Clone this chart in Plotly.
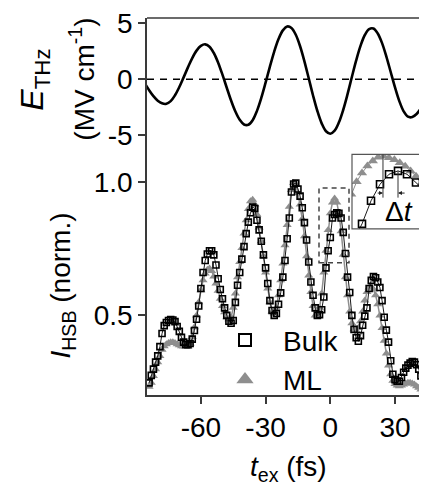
import plotly.graph_objects as go

# ---------------- data ----------------
t_field = [-86, -84, -82, -80, -78, -76, -74, -72, -70, -68, -66, -64, -62, -60, -58, -56, -54,
           -52, -50, -48, -46, -44, -42, -40, -38, -36, -34, -32, -30, -28, -26, -24, -22, -20,
           -18, -16, -14, -12, -10, -8, -6, -4, -2, 0, 2, 4, 6, 8, 10, 12, 14, 16, 18, 20, 22,
           24, 26, 28, 30, 32, 34, 36, 38, 40, 42, 44, 46]
e_thz = [-0.38, -0.98, -1.51, -1.91, -2.15, -2.19, -1.95, -1.43, -0.70, 0.16, 1.05, 1.88, 2.54,
         2.96, 3.10, 2.89, 2.33, 1.47, 0.40, -0.76, -1.90, -2.88, -3.62, -4.03, -4.06, -3.65,
         -2.82, -1.67, -0.31, 1.12, 2.46, 3.57, 4.34, 4.69, 4.56, 3.95, 2.93, 1.59, 0.08, -1.45,
         -2.83, -3.93, -4.63, -4.85, -4.58, -3.84, -2.72, -1.33, 0.19, 1.67, 2.96, 3.93, 4.46,
         4.51, 4.07, 3.21, 2.01, 0.64, -0.73, -1.95, -2.86, -3.34, -3.37, -3.10, -2.60, -1.95, -1.30]

t_ex = [-84, -83, -82, -81, -80, -79, -78, -77, -76, -75,
        -74, -73, -72, -71, -70, -69, -68, -67, -66, -65,
        -64, -63, -62, -61, -60, -59, -58, -57, -56, -55,
        -54, -53, -52, -51, -50, -49, -48, -47, -46, -45,
        -44, -43, -42, -41, -40, -39, -38, -37, -36, -35,
        -34, -33, -32, -31, -30, -29, -28, -27, -26, -25,
        -24, -23, -22, -21, -20, -19, -18, -17, -16, -15,
        -14, -13, -12, -11, -10, -9, -8, -7, -6, -5,
        -4, -3, -2, -1, 0, 1, 2, 3, 4, 5,
        6, 7, 8, 9, 10, 11, 12, 13, 14, 15,
        16, 17, 18, 19, 20, 21, 22, 23, 24, 25,
        26, 27, 28, 29, 30, 31, 32, 33, 34, 35,
        36, 37, 38, 39, 40, 41, 42, 43, 44, 45]

hsb_bulk = [0.352, 0.366, 0.378, 0.392, 0.405, 0.425, 0.455, 0.474, 0.482, 0.487,
            0.489, 0.488, 0.484, 0.472, 0.460, 0.446, 0.435, 0.430, 0.429, 0.432,
            0.442, 0.462, 0.490, 0.525, 0.575, 0.625, 0.665, 0.688, 0.700, 0.700,
            0.685, 0.650, 0.605, 0.572, 0.545, 0.520, 0.500, 0.485, 0.480, 0.487,
            0.535, 0.585, 0.625, 0.670, 0.715, 0.765, 0.812, 0.853, 0.878, 0.872,
            0.820, 0.780, 0.735, 0.685, 0.640, 0.590, 0.540, 0.513, 0.500, 0.505,
            0.530, 0.562, 0.610, 0.665, 0.745, 0.830, 0.950, 0.990, 0.995, 0.965,
            0.930, 0.875, 0.810, 0.740, 0.660, 0.595, 0.555, 0.520, 0.500, 0.502,
            0.515, 0.550, 0.640, 0.700, 0.750, 0.830, 0.845, 0.852, 0.850, 0.830,
            0.770, 0.690, 0.610, 0.563, 0.500, 0.465, 0.445, 0.437, 0.450, 0.475,
            0.498, 0.520, 0.575, 0.600, 0.612, 0.608, 0.595, 0.578, 0.540, 0.495,
            0.463, 0.435, 0.395, 0.368, 0.358, 0.355, 0.355, 0.362, 0.372, 0.380,
            0.386, 0.390, 0.393, 0.392, 0.387, 0.378, 0.365, 0.352, 0.336, 0.325]

hsb_ml = [0.345, 0.352, 0.365, 0.378, 0.392, 0.405, 0.418, 0.426, 0.430, 0.433,
          0.435, 0.435, 0.433, 0.430, 0.428, 0.426, 0.425, 0.424, 0.425, 0.432,
          0.447, 0.470, 0.500, 0.535, 0.570, 0.600, 0.622, 0.634, 0.638, 0.630,
          0.612, 0.590, 0.568, 0.545, 0.525, 0.508, 0.495, 0.490, 0.495, 0.520,
          0.560, 0.610, 0.660, 0.710, 0.765, 0.820, 0.870, 0.905, 0.912, 0.890,
          0.845, 0.790, 0.735, 0.680, 0.625, 0.575, 0.535, 0.510, 0.505, 0.520,
          0.555, 0.600, 0.655, 0.720, 0.800, 0.880, 0.960, 0.995, 0.985, 0.945,
          0.890, 0.825, 0.755, 0.680, 0.615, 0.565, 0.525, 0.500, 0.500, 0.520,
          0.560, 0.625, 0.700, 0.780, 0.850, 0.900, 0.918, 0.900, 0.850, 0.775,
          0.685, 0.610, 0.555, 0.510, 0.480, 0.465, 0.462, 0.468, 0.485, 0.510,
          0.540, 0.565, 0.578, 0.580, 0.572, 0.555, 0.530, 0.500, 0.468, 0.438,
          0.410, 0.385, 0.368, 0.356, 0.350, 0.347, 0.346, 0.347, 0.349, 0.351,
          0.352, 0.352, 0.351, 0.349, 0.346, 0.343, 0.340, 0.337, 0.334, 0.330]

# inset (zoom of the peak near t_ex = 0)
inset_t_bulk = [-1, 0, 1, 2, 3, 4, 5, 6, 7, 8]
inset_bulk = [0.45, 0.551, 0.682, 0.776, 0.833, 0.852, 0.833, 0.786, 0.739, 0.69]
inset_t_ml = [-1.8, -1.2, -0.6, 0.0, 0.6, 1.2, 1.8, 2.4, 3.0, 3.6, 4.2, 4.8, 5.4, 6.0, 6.6, 7.2, 7.8]
inset_ml = [0.64, 0.72, 0.79, 0.84, 0.88, 0.908, 0.93, 0.935, 0.926, 0.915, 0.898, 0.878,
            0.852, 0.822, 0.78, 0.73, 0.67]
peak_ml_t = 2.33
peak_bulk_t = 4.0

x_ticks = [-60, -30, 0, 30]
x_ticklabels = ["-60", "-30", "0", "30"]
e_ticks = [-5, 0, 5]
e_ticklabels = ["-5", "0", "5"]
i_ticks = [0.5, 1.0]
i_ticklabels = ["0.5", "1.0"]

# ---------------- figure ----------------
FONT = "Liberation Sans, Arial, sans-serif"
AX = "#3a3a3a"
GRAY = "#8e8e8e"
OFF = 8                      # page body margin of the browser
SW, SH = 427, 488            # screen size
W, H = SW - OFF, SH - OFF    # figure size
L_PX, R_PX, T_PX, B_PX = 147, 427, 16, 395   # plot area on screen
ML_, MR_, MT_, MB_ = L_PX - OFF, SW - R_PX, T_PX - OFF, SH - B_PX
PW, PH = R_PX - L_PX, B_PX - T_PX


def px_x(p):
    return (p - L_PX) / PW


def px_y(p):
    return (B_PX - p) / PH


split = px_y(150)

fig = go.Figure()

# top panel: THz field
fig.add_trace(go.Scatter(x=t_field, y=e_thz, xaxis="x2", yaxis="y2", mode="lines",
                         line=dict(color="black", width=2.6, shape="spline"),
                         showlegend=False, hoverinfo="skip"))

# bottom panel: HSB intensity
fig.add_trace(go.Scatter(x=t_ex, y=hsb_ml, xaxis="x", yaxis="y", mode="lines+markers",
                         line=dict(color=GRAY, width=1.5),
                         marker=dict(symbol="triangle-up", size=8, color=GRAY),
                         showlegend=False, hoverinfo="skip"))
fig.add_trace(go.Scatter(x=t_ex, y=hsb_bulk, xaxis="x", yaxis="y", mode="lines+markers",
                         line=dict(color="#1a1a1a", width=1),
                         marker=dict(symbol="square-open", size=6, color="black",
                                     line=dict(width=1.6, color="black")),
                         showlegend=False, hoverinfo="skip"))

# legend entries
fig.add_trace(go.Scatter(x=[None], y=[None], xaxis="x", yaxis="y", mode="markers", name="Bulk",
                         marker=dict(symbol="square-open", size=12, color="black",
                                     line=dict(width=2, color="black"))))
fig.add_trace(go.Scatter(x=[None], y=[None], xaxis="x", yaxis="y", mode="markers", name="ML",
                         marker=dict(symbol="triangle-up", size=15, color=GRAY)))

# inset
fig.add_trace(go.Scatter(x=inset_t_ml, y=inset_ml, xaxis="x3", yaxis="y3", mode="lines+markers",
                         line=dict(color=GRAY, width=1),
                         marker=dict(symbol="triangle-up", size=9, color=GRAY),
                         showlegend=False, hoverinfo="skip", cliponaxis=True))
fig.add_trace(go.Scatter(x=inset_t_bulk, y=inset_bulk, xaxis="x3", yaxis="y3", mode="lines+markers",
                         line=dict(color="#1a1a1a", width=1),
                         marker=dict(symbol="square-open", size=7, color="black",
                                     line=dict(width=1.6, color="black")),
                         showlegend=False, hoverinfo="skip", cliponaxis=True))

tickfont = dict(family=FONT, size=28, color="black")
common_axis = dict(showgrid=False, zeroline=False, ticks="outside", ticklen=7, tickwidth=1.5,
                   tickcolor=AX, showline=True, linecolor=AX, linewidth=1.5, tickfont=tickfont,
                   ticklabeloverflow="allow")

x_lo = (L_PX - 330.3) / 2.157
x_hi = (R_PX - 330.3) / 2.157
inset_x_lo = peak_bulk_t - (398 - 352) / 9.0
inset_x_hi = inset_x_lo + (R_PX - 352) / 9.0
inset_y_hi = 0.852 + (169.7 - 153) / 177.0
inset_y_lo = inset_y_hi - (228 - 153) / 177.0

fig.update_layout(
    width=W, height=H,
    margin=dict(l=ML_, r=MR_, t=MT_, b=MB_, pad=0),
    paper_bgcolor="white", plot_bgcolor="white",
    font=dict(family=FONT, size=28, color="black"),
    xaxis=dict(common_axis, domain=[0, 1], anchor="y", range=[x_lo, x_hi],
               tickmode="array", tickvals=x_ticks, ticktext=x_ticklabels),
    yaxis=dict(common_axis, domain=[0, split], anchor="x", type="log",
               range=[-(395 - 181) / 445.0, (181 - 150) / 445.0],
               tickmode="array", tickvals=i_ticks, ticktext=i_ticklabels),
    xaxis2=dict(domain=[0, 1], anchor="y2", matches="x", showticklabels=False,
                showline=False, showgrid=False, zeroline=False, ticks=""),
    yaxis2=dict(common_axis, domain=[split, 1], anchor="x2",
                range=[(77.5 - 150) / 11.3, (77.5 - 16) / 11.3],
                tickmode="array", tickvals=e_ticks, ticktext=e_ticklabels),
    xaxis3=dict(domain=[px_x(352), 1], anchor="y3", range=[inset_x_lo, inset_x_hi],
                showticklabels=False, showline=False, showgrid=False, zeroline=False, ticks=""),
    yaxis3=dict(domain=[px_y(228), px_y(153)], anchor="x3", range=[inset_y_lo, inset_y_hi],
                showticklabels=False, showline=False, showgrid=False, zeroline=False, ticks=""),
    legend=dict(x=px_x(207), y=px_y(315), xanchor="left", yanchor="top",
                bgcolor="rgba(0,0,0,0)", borderwidth=0, itemwidth=66,
                font=dict(family=FONT, size=28, color="black"), tracegroupgap=0),
    showlegend=True,
)

shapes = [
    # top frame line
    dict(type="line", xref="paper", yref="paper", x0=0, x1=1.2, y0=1, y1=1,
         line=dict(color=AX, width=1.5)),
    # zero line (top panel)
    dict(type="line", xref="x2 domain", yref="y2", x0=0, x1=1, y0=0, y1=0,
         line=dict(color="black", width=1.5, dash="7px,6px")),
    # dashed zoom box
    dict(type="rect", xref="paper", yref="paper", x0=px_x(319), x1=px_x(349),
         y0=px_y(262), y1=px_y(187), line=dict(color="#444", width=1.5, dash="5px,4px")),
    # inset frame
    dict(type="rect", xref="paper", yref="paper", x0=px_x(352), x1=1.2,
         y0=px_y(228), y1=px_y(153), line=dict(color="#555", width=1.2)),
    # peak markers in inset
    dict(type="line", xref="x3", yref="y3", x0=peak_ml_t, x1=peak_ml_t,
         y0=inset_y_hi, y1=0.700, line=dict(color="#333", width=1)),
    dict(type="line", xref="x3", yref="y3", x0=peak_bulk_t, x1=peak_bulk_t,
         y0=0.852, y1=0.700, line=dict(color="#333", width=1)),
]
fig.update_layout(shapes=shapes)

annotations = [
    dict(text="<i>E</i><sub>THz</sub>", xref="paper", yref="paper", x=px_x(35), y=px_y(78),
         xanchor="center", yanchor="middle", textangle=-90, showarrow=False,
         font=dict(family=FONT, size=32)),
    dict(text="(MV cm<sup>-1</sup>)", xref="paper", yref="paper", x=px_x(82), y=px_y(78),
         xanchor="center", yanchor="middle", textangle=-90, showarrow=False,
         font=dict(family=FONT, size=28)),
    dict(text="<i>I</i><sub>HSB</sub> (norm.)", xref="paper", yref="paper", x=px_x(63),
         y=px_y(285), xanchor="center", yanchor="middle", textangle=-90, showarrow=False,
         font=dict(family=FONT, size=28)),
    dict(text="<i>t</i><sub>ex</sub> (fs)", xref="paper", yref="paper", x=px_x(288),
         y=px_y(469), xanchor="center", yanchor="middle", showarrow=False,
         font=dict(family=FONT, size=28)),
    dict(text="Δ<i>t</i>", xref="x3", yref="y3", x=peak_bulk_t + 0.1, y=0.62,
         xanchor="center", yanchor="middle", showarrow=False,
         font=dict(family=FONT, size=28)),
    dict(text="", xref="x3", yref="y3", axref="x3", ayref="y3",
         x=peak_ml_t, y=0.726, ax=peak_ml_t - 0.75, ay=0.726,
         showarrow=True, arrowhead=2, arrowsize=0.8, arrowwidth=1, arrowcolor="#222"),
    dict(text="", xref="x3", yref="y3", axref="x3", ayref="y3",
         x=peak_bulk_t, y=0.726, ax=peak_bulk_t + 0.9, ay=0.726,
         showarrow=True, arrowhead=2, arrowsize=0.8, arrowwidth=1, arrowcolor="#222"),
]
fig.update_layout(annotations=annotations)

fig.write_html("out.html")
